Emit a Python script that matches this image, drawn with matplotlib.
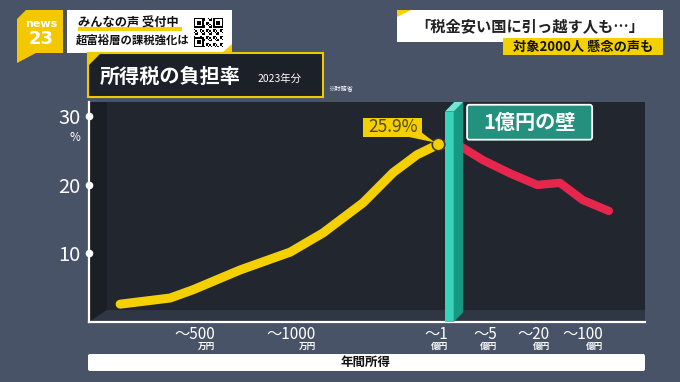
import numpy as np
import matplotlib.pyplot as plt
from matplotlib.patches import Polygon, Rectangle, FancyBboxPatch
from matplotlib.transforms import blended_transform_factory

plt.rcParams['font.family'] = ['Noto Sans CJK JP', 'DejaVu Sans']

# income position on the x axis (arbitrary 0-100 scale) and tax burden (%)
low_x = [5.6, 14.6, 18.7, 27.2, 36.2, 42.1, 49.3, 54.7, 59.0, 62.8]
low_rate = [2.6, 3.5, 4.7, 7.6, 10.2, 13.0, 17.4, 21.8, 24.4, 25.9]
high_x = [62.8, 64.0, 67.1, 70.9, 75.7, 80.6, 84.7, 88.8, 93.5]
high_rate = [25.9, 25.9, 25.5, 23.6, 21.7, 20.0, 20.3, 17.8, 16.2]
peak_x = 62.8
peak_rate = 25.9
wall_x = 64.0

tick_x = [22.7, 40.8, 64.6, 73.4, 82.9, 92.4]
tick_main = ['～500', '～1000', '～1', '～5', '～20', '～100']
tick_unit = ['万円', '万円', '億円', '億円', '億円', '億円']
y_ticks = [10, 20, 30]

bg = '#485368'
yellow = '#f5d000'
red = '#e6264d'

fig = plt.figure(figsize=(6.8, 3.82), dpi=100, facecolor=bg)

# ---- chart ----
ax = fig.add_axes([89/680, (382-322)/382, 556/680, 220/382])
ax.set_facecolor('#21262f')
ax.set_xlim(0, 100)
ax.set_ylim(0, 32.1)
for s in ['top', 'right']:
    ax.spines[s].set_visible(False)
for s in ['left', 'bottom']:
    ax.spines[s].set_color('white')
    ax.spines[s].set_linewidth(1.6)

# 3d floor and left wall
ax.add_patch(Polygon([(0, 0), (3.2, 1.75), (3.2, 32.1), (0, 32.1)], closed=True,
                     fc='#1a1e25', ec='none', zorder=1))
ax.add_patch(Polygon([(0, 0), (3.2, 1.75), (100, 1.75), (100, 0)], closed=True,
                     fc='#2f3644', ec='none', zorder=1))

ax.plot(high_x, high_rate, color=red, lw=6, solid_capstyle='round',
        solid_joinstyle='round', zorder=3)
ax.plot(low_x, low_rate, color=yellow, lw=6.5, solid_capstyle='round',
        solid_joinstyle='round', zorder=4)

# the "wall"
ax.add_patch(Rectangle((wall_x, 0), 1.6, 30.7, fc='#38d3bb', ec='none', zorder=5))
ax.add_patch(Polygon([(wall_x+1.6, 0), (wall_x+3.3, 1.4), (wall_x+3.3, 32.1),
                      (wall_x+1.6, 30.7)], closed=True, fc='#179784', ec='none', zorder=5))
ax.add_patch(Polygon([(wall_x, 30.7), (wall_x+1.6, 30.7), (wall_x+3.3, 32.1),
                      (wall_x+1.7, 32.1)], closed=True, fc='#6fe9d6', ec='none',
                     zorder=5, clip_on=False))

ax.plot([peak_x], [peak_rate], 'o', ms=9, mfc=yellow, mec='#3b3820', mew=1.2, zorder=6)

# 25.9% callout
ax.add_patch(Polygon([(57.5, 27.0), (59.9, 27.6), (peak_x-0.6, peak_rate+0.3)],
                     closed=True, fc=yellow, ec='none', zorder=6))
ax.add_patch(Rectangle((49.3, 27.0), 10.6, 2.8, fc=yellow, ec='none', zorder=6))
ax.text(54.6, 28.4, '25.9%', ha='center', va='center', fontsize=12.5,
        color='#4f4a1c', zorder=7)

# 1億円の壁 label
ax.add_patch(FancyBboxPatch((68.0, 26.6), 22.5, 5.1,
                            boxstyle='round,pad=0,rounding_size=0.4',
                            fc='#24907e', ec='white', lw=1.3, zorder=6))
ax.text(79.25, 29.1, '1億円の壁', ha='center', va='center', fontsize=14.5,
        fontweight='bold', color='white', zorder=7)

# y axis
ax.set_xticks([])
ax.set_yticks(y_ticks)
ax.set_yticklabels([str(v) for v in y_ticks])
ax.tick_params(axis='y', length=0, pad=6, labelsize=14.5, labelcolor='white')
ax.plot([0]*len(y_ticks), y_ticks, 'o', ms=4.5, color='white', clip_on=False, zorder=8)
ax.text(-0.016, 26.9, '%', transform=blended_transform_factory(ax.transAxes, ax.transData),
        ha='right', va='center', fontsize=8.5, color='white')

# x tick labels
tr = blended_transform_factory(ax.transData, ax.transAxes)
for x, m, u in zip(tick_x, tick_main, tick_unit):
    ax.text(x, -0.055, m, transform=tr, ha='right', va='center', fontsize=11,
            color='white')
    ax.text(x, -0.11, u, transform=tr, ha='right', va='center', fontsize=6.2,
            fontweight='bold', color='white')

# ---- overlay (pixel coordinates) ----
ov = fig.add_axes([0, 0, 1, 1], zorder=10)
ov.set_xlim(0, 680)
ov.set_ylim(382, 0)
ov.axis('off')
ov.patch.set_alpha(0)

# logo
ov.add_patch(Polygon([(17, 19), (26, 10), (63, 10), (63, 53), (36, 53), (17, 63)],
                     closed=True, fc='#f3c800', ec='none'))
ov.text(41, 24, 'news', ha='center', va='center', fontsize=8, fontweight='bold',
        color='white', family='DejaVu Sans')
ov.text(41, 39.5, '23', ha='center', va='center', fontsize=13, fontweight='bold',
        color='white', family='DejaVu Sans')

# comment box
ov.add_patch(Rectangle((67, 10), 165, 43, fc='white', ec='none', zorder=1))
ov.add_patch(Rectangle((78, 26.5), 104, 4.5, fc=yellow, ec='none', zorder=2))
ov.text(78, 22.5, 'みんなの声 受付中', ha='left', va='center', fontsize=8.8,
        fontweight='bold', color='#111111', zorder=3)
ov.text(76, 40, '超富裕層の課税強化は', ha='left', va='center', fontsize=8.2,
        fontweight='bold', color='#111111', zorder=3)
ov.add_patch(Polygon([(232, 44), (232, 53), (222, 53)], closed=True, fc=yellow, ec='none'))

# qr-like pattern
n = 21
qr = np.zeros((n, n))
for i in range(n):
    for j in range(n):
        qr[i, j] = 1 if (i * 7 + j * 3 + i * j) % 5 < 2 else 0
for (r0, c0) in [(0, 0), (0, n-7), (n-7, 0)]:
    qr[r0:r0+7, c0:c0+7] = 1
    qr[r0+1:r0+6, c0+1:c0+6] = 0
    qr[r0+2:r0+5, c0+2:c0+5] = 1
ov.imshow(qr, cmap='gray_r', extent=(194, 223, 47, 18), interpolation='nearest',
          aspect='auto', zorder=3)

# title box
ov.add_patch(Rectangle((88, 53), 235, 44, fc='#1c2029', ec='#f0c800', lw=1.5))
ov.add_patch(Polygon([(88, 53), (101, 53), (88, 66)], closed=True, fc='#f0c800', ec='none'))
ov.text(100, 76, '所得税の負担率', ha='left', va='center', fontsize=14.5,
        fontweight='bold', color='white')
ov.text(258, 79, '2023年分', ha='left', va='center', fontsize=7.5, color='white')
ov.text(328, 89, '※財務省', ha='left', va='center', fontsize=4.5, color='white')

# headline boxes
ov.add_patch(Rectangle((397, 10), 266, 32, fc='white', ec='none'))
ov.add_patch(Polygon([(397, 10), (411, 10), (397, 17)], closed=True, fc=yellow, ec='none'))
ov.text(530, 26, '「税金安い国に引っ越す人も…」', ha='center', va='center',
        fontsize=11, fontweight='bold', color='#222222')
ov.add_patch(Rectangle((503, 38), 160, 17, fc=yellow, ec='none'))
ov.text(583, 46.5, '対象2000人 懸念の声も', ha='center', va='center',
        fontsize=9.5, fontweight='bold', color='#111111')

# x axis title bar
ov.add_patch(FancyBboxPatch((88, 354), 557, 17, boxstyle='round,pad=0,rounding_size=2',
                            fc='white', ec='none'))
ov.text(366, 362.5, '年間所得', ha='center', va='center', fontsize=9,
        fontweight='bold', color='#111111')

fig.savefig('out.png', dpi=100, facecolor=bg)
